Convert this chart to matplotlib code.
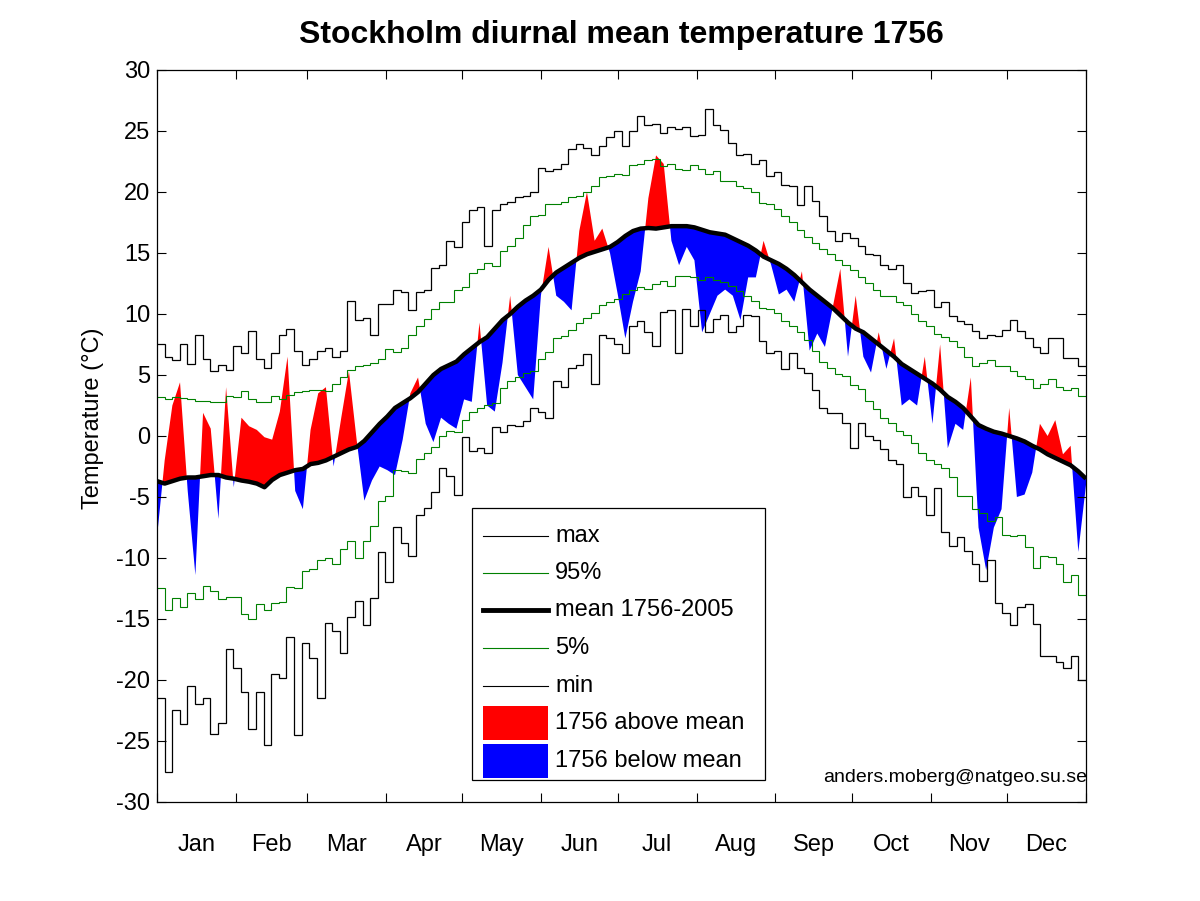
import numpy as np
import matplotlib
matplotlib.use('Agg')
import matplotlib.pyplot as plt
from matplotlib.lines import Line2D
from matplotlib.patches import Rectangle

plt.rcParams['font.family'] = ['Liberation Sans', 'DejaVu Sans']
plt.rcParams['axes.unicode_minus'] = False

# ---------------- data (3-day resolution) ----------------
month_labels = ['Jan', 'Feb', 'Mar', 'Apr', 'May', 'Jun',
                'Jul', 'Aug', 'Sep', 'Oct', 'Nov', 'Dec']
month_edges = [0, 31, 59, 90, 120, 151, 181, 212, 243, 273, 304, 334, 365]
y_ticks = [-30, -25, -20, -15, -10, -5, 0, 5, 10, 15, 20, 25, 30]

t_max = [7.5, 6.5, 6.2, 7.5, 5.9, 8.3, 6.3, 5.3, 5.8, 5.4, 7.4, 6.8, 8.6, 6.3, 5.6, 6.8,
         8.3, 8.8, 7.0, 5.8, 6.3, 7.0, 7.2, 6.5, 7.0, 11.1, 9.5, 9.7, 8.3, 10.8, 10.8, 12.0,
         11.8, 10.3, 11.8, 12.0, 13.8, 14.0, 16.0, 15.5, 17.5, 18.5, 18.8, 15.6, 18.5, 19.0,
         19.2, 19.6, 19.7, 20.0, 22.0, 21.7, 21.9, 22.3, 23.5, 23.9, 23.6, 23.0, 23.8, 24.5,
         25.0, 23.8, 25.0, 26.2, 25.5, 25.6, 24.8, 25.3, 25.2, 25.3, 24.6, 24.7, 26.8, 25.5,
         25.1, 24.0, 23.0, 23.1, 22.3, 22.6, 21.3, 21.6, 20.6, 20.5, 18.9, 20.5, 19.3, 18.0,
         16.8, 16.0, 16.6, 16.2, 15.6, 14.9, 14.8, 14.0, 13.7, 14.0, 12.5, 11.7, 11.9, 12.0,
         10.6, 11.0, 9.8, 9.4, 9.2, 8.6, 8.0, 8.3, 8.2, 8.7, 9.5, 8.6, 8.0, 7.3, 6.8, 8.0,
         8.0, 6.4, 6.4, 5.7]

t_min = [-21.5, -27.5, -22.5, -23.6, -20.5, -22.0, -21.5, -24.4, -23.5, -17.5, -19.0,
         -21.0, -24.0, -21.0, -25.3, -19.5, -19.8, -16.5, -24.5, -17.0, -18.2, -21.5, -15.3,
         -16.0, -17.8, -14.8, -13.5, -15.5, -13.3, -9.5, -12.0, -7.5, -8.8, -9.8, -6.5, -5.9,
         -4.6, -2.6, -3.3, -4.8, -0.1, -1.2, -1.0, -1.4, 0.7, 0.3, 0.9, 0.8, 1.25, 2.3, 2.0,
         1.5, 4.5, 4.0, 5.6, 5.8, 6.7, 4.3, 8.3, 8.0, 7.5, 6.8, 9.0, 9.4, 8.5, 7.4, 10.2,
         10.3, 6.8, 10.4, 9.0, 10.3, 8.5, 9.6, 9.9, 8.5, 9.0, 9.9, 9.8, 7.8, 6.8, 7.0, 5.5,
         6.8, 5.6, 5.2, 3.8, 2.3, 1.9, 1.85, 1.1, -1.0, 1.1, 0.0, -0.3, -1.1, -2.0, -2.3,
         -5.0, -4.2, -4.9, -6.5, -4.3, -7.9, -9.0, -8.3, -9.4, -10.5, -11.9, -10.2, -13.7,
         -14.5, -15.5, -14.0, -13.8, -15.4, -18.0, -18.0, -18.5, -19.0, -18.0, -20.0]

t_p95 = [3.2, 3.05, 3.2, 3.1, 3.05, 2.85, 2.85, 2.8, 2.8, 3.3, 3.2, 3.7, 3.0, 2.8, 2.8,
         3.3, 3.0, 3.4, 3.6, 3.7, 3.75, 3.8, 3.7, 4.3, 4.8, 5.4, 5.7, 5.8, 6.0, 6.3, 7.1,
         6.9, 7.2, 8.3, 9.0, 9.6, 10.4, 11.0, 11.0, 12.0, 12.2, 13.4, 13.7, 14.2, 13.9, 15.2,
         15.6, 16.2, 17.3, 18.0, 18.1, 19.0, 19.0, 19.2, 19.6, 19.7, 20.0, 20.5, 21.2, 21.3,
         21.5, 21.4, 22.2, 22.3, 22.6, 22.7, 22.1, 22.3, 21.85, 21.8, 22.2, 21.9, 21.5, 21.7,
         20.9, 20.9, 20.5, 20.3, 20.0, 19.1, 19.0, 18.6, 18.0, 17.5, 16.9, 16.3, 15.85, 15.3,
         14.9, 14.4, 14.0, 13.6, 13.0, 12.5, 12.0, 11.45, 11.45, 11.0, 10.75, 10.0, 9.4, 9.0,
         8.4, 8.1, 7.8, 7.3, 6.5, 5.75, 6.0, 6.2, 5.7, 5.7, 5.3, 4.9, 4.7, 3.9, 4.3, 4.7,
         4.0, 3.8, 3.9, 3.3]

t_p05 = [-12.5, -14.3, -13.3, -14.0, -12.9, -13.4, -12.3, -12.7, -13.4, -13.2, -13.2,
         -14.6, -15.0, -13.8, -14.3, -13.7, -13.6, -12.4, -12.5, -11.1, -10.9, -10.2, -10.0,
         -10.5, -9.3, -8.6, -10.0, -8.6, -7.4, -5.3, -4.9, -2.8, -2.9, -3.0, -1.85, -1.4,
         -0.9, 0.0, 0.45, 0.3, 1.3, 2.0, 2.3, 2.5, 2.7, 3.9, 4.5, 4.8, 5.15, 5.3, 6.3, 6.9,
         8.0, 8.2, 8.7, 9.3, 9.65, 10.1, 10.75, 10.95, 11.2, 11.6, 12.0, 12.2, 12.05, 12.45,
         12.7, 12.3, 13.1, 13.15, 13.0, 12.8, 13.0, 12.8, 12.6, 12.3, 11.85, 11.5, 11.1,
         10.5, 10.4, 10.1, 9.4, 9.0, 8.5, 7.9, 7.0, 6.1, 5.6, 5.1, 4.9, 4.2, 3.85, 2.9, 2.2,
         1.5, 1.1, 0.4, 0.1, -0.6, -1.4, -2.0, -2.3, -2.65, -3.4, -4.9, -4.9, -6.0, -6.3,
         -7.0, -6.6, -8.1, -8.2, -8.1, -9.1, -10.8, -9.8, -9.9, -10.5, -12.0, -11.4, -13.0]

t_mean = [-3.7, -3.9, -3.7, -3.5, -3.4, -3.4, -3.3, -3.2, -3.2, -3.4, -3.5, -3.65, -3.75,
          -3.9, -4.2, -3.6, -3.2, -3.0, -2.8, -2.7, -2.3, -2.2, -2.0, -1.7, -1.4, -1.1, -0.9,
          -0.4, 0.3, 1.0, 1.6, 2.3, 2.7, 3.1, 3.6, 4.3, 5.0, 5.5, 5.8, 6.1, 6.7, 7.2, 7.7,
          8.1, 8.8, 9.5, 10.0, 10.6, 11.1, 11.5, 12.0, 12.8, 13.4, 13.8, 14.2, 14.6, 14.9,
          15.1, 15.3, 15.5, 15.9, 16.4, 16.8, 17.0, 17.05, 17.0, 17.1, 17.2, 17.2, 17.2,
          17.1, 16.9, 16.7, 16.6, 16.5, 16.2, 15.9, 15.6, 15.2, 14.7, 14.4, 14.1, 13.7, 13.2,
          12.6, 12.0, 11.5, 11.0, 10.5, 9.9, 9.3, 8.8, 8.5, 8.0, 7.5, 7.0, 6.5, 5.9, 5.5,
          5.1, 4.7, 4.3, 3.8, 3.2, 2.8, 2.3, 1.6, 0.9, 0.6, 0.35, 0.2, 0.0, -0.2, -0.45,
          -0.8, -1.1, -1.5, -1.8, -2.1, -2.4, -2.9, -3.5]

t_1756 = [-8.3, -2.0, 2.5, 4.4, -4.5, -11.4, 1.9, 0.6, -6.8, 4.0, -4.2, 1.5, 0.8, 0.5,
          -0.1, -0.3, 2.0, 6.5, -4.5, -6.0, 0.5, 3.5, 4.0, -2.5, 1.5, 5.3, -0.3, -5.3, -3.65,
          -2.5, -2.8, -3.2, -0.3, 3.5, 4.8, 1.0, -0.5, 1.5, 1.0, 0.6, 3.0, 2.8, 9.3, 2.5, 2.0,
          6.0, 11.5, 5.0, 4.0, 3.0, 11.5, 15.5, 11.5, 11.0, 10.3, 16.8, 20.0, 16.0, 17.0,
          15.0, 11.65, 8.0, 11.0, 13.5, 19.5, 23.0, 22.3, 16.0, 14.0, 15.5, 14.4, 8.5, 10.0,
          11.5, 12.0, 11.5, 9.5, 13.0, 13.0, 16.0, 14.0, 11.6, 12.0, 11.0, 13.5, 7.0, 8.4,
          7.3, 10.5, 13.7, 6.5, 11.5, 6.5, 5.2, 8.5, 5.5, 8.0, 2.5, 3.0, 2.5, 6.5, 1.0, 7.5,
          -1.0, 1.0, 0.5, 4.8, -7.5, -11.0, -7.5, -6.0, 2.3, -5.0, -4.8, -3.0, 1.0, 0.0, 1.3,
          -1.5, -0.8, -9.5, -4.0]

# ---------------- figure ----------------
W, H = 1200, 901
fig = plt.figure(figsize=(W / 100, H / 100), dpi=100)
ax = fig.add_axes([157 / W, 1 - 802 / H, 929 / W, 732 / H])

n = len(t_mean)
x = np.linspace(0, 365, n)
edges = np.linspace(0, 365, n + 1)
a1756 = np.array(t_1756)
amean = np.array(t_mean)

ax.fill_between(x, a1756, amean, where=a1756 >= amean, interpolate=True,
                color='#ff0000', lw=0, zorder=1)
ax.fill_between(x, a1756, amean, where=a1756 <= amean, interpolate=True,
                color='#0000ff', lw=0, zorder=1)

ax.stairs(t_max, edges, baseline=None, color='black', lw=0.9, zorder=2)
ax.stairs(t_min, edges, baseline=None, color='black', lw=0.9, zorder=2)
ax.stairs(t_p95, edges, baseline=None, color='#008000', lw=0.8, zorder=2)
ax.stairs(t_p05, edges, baseline=None, color='#008000', lw=0.8, zorder=2)
ax.plot(x, t_mean, color='black', lw=3.2, zorder=3, solid_capstyle='butt')

ax.set_xlim(0, 365)
ax.set_ylim(-30, 30)
ax.set_yticks(y_ticks)
ax.set_yticklabels([str(v) for v in y_ticks])
ax.set_xticks(month_edges)
ax.set_xticklabels([''] * len(month_edges))
mids = [(month_edges[i] + month_edges[i + 1]) / 2 for i in range(12)]
ax.set_xticks(mids, minor=True)
ax.set_xticklabels(month_labels, minor=True)
ax.tick_params(axis='both', which='major', direction='in', length=6.5, width=0.8,
               top=True, right=True, labelsize=17, pad=5)
ax.tick_params(axis='x', which='minor', length=0, labelsize=17, pad=23)
for s in ax.spines.values():
    s.set_linewidth(0.9)

def fx(px):
    return px / W

def fy(py):
    return 1 - py / H

fig.text(fx(621), fy(35), 'Stockholm diurnal mean temperature 1756', ha='center',
         va='center', fontsize=23, fontweight='bold')
fig.text(fx(93), fy(418), 'Temperature (°C)', rotation=90, ha='center', va='center',
         fontsize=17)
fig.text(fx(1087), fy(778), 'anders.moberg@natgeo.su.se', ha='right', va='center',
         fontsize=14)

# legend (drawn by hand to match the reference box)
fig.add_artist(Rectangle((fx(472), fy(780)), fx(765) - fx(472), fy(508) - fy(780),
                         transform=fig.transFigure, facecolor='white', edgecolor='black',
                         lw=0.9, zorder=5))
leg_items = [('max', 'black', 0.8, 536), ('95%', '#008000', 0.8, 573),
             ('mean 1756-2005', 'black', 3.5, 610), ('5%', '#008000', 0.8, 648),
             ('min', 'black', 0.8, 686)]
for lab, col, lw, py in leg_items:
    fig.add_artist(Line2D([fx(483), fx(548)], [fy(py), fy(py)], color=col, lw=lw,
                          transform=fig.transFigure, zorder=6))
    fig.text(fx(555), fy(py), lab, ha='left', va='center', fontsize=17, zorder=6)
for lab, col, py in [('1756 above mean', '#ff0000', 723), ('1756 below mean', '#0000ff', 761)]:
    fig.add_artist(Rectangle((fx(483), fy(py + 17)), fx(548) - fx(483), fy(py - 17) - fy(py + 17),
                             transform=fig.transFigure, facecolor=col, edgecolor='none',
                             zorder=6))
    fig.text(fx(555), fy(py), lab, ha='left', va='center', fontsize=17, zorder=6)

fig.savefig('out.png', dpi=100)
